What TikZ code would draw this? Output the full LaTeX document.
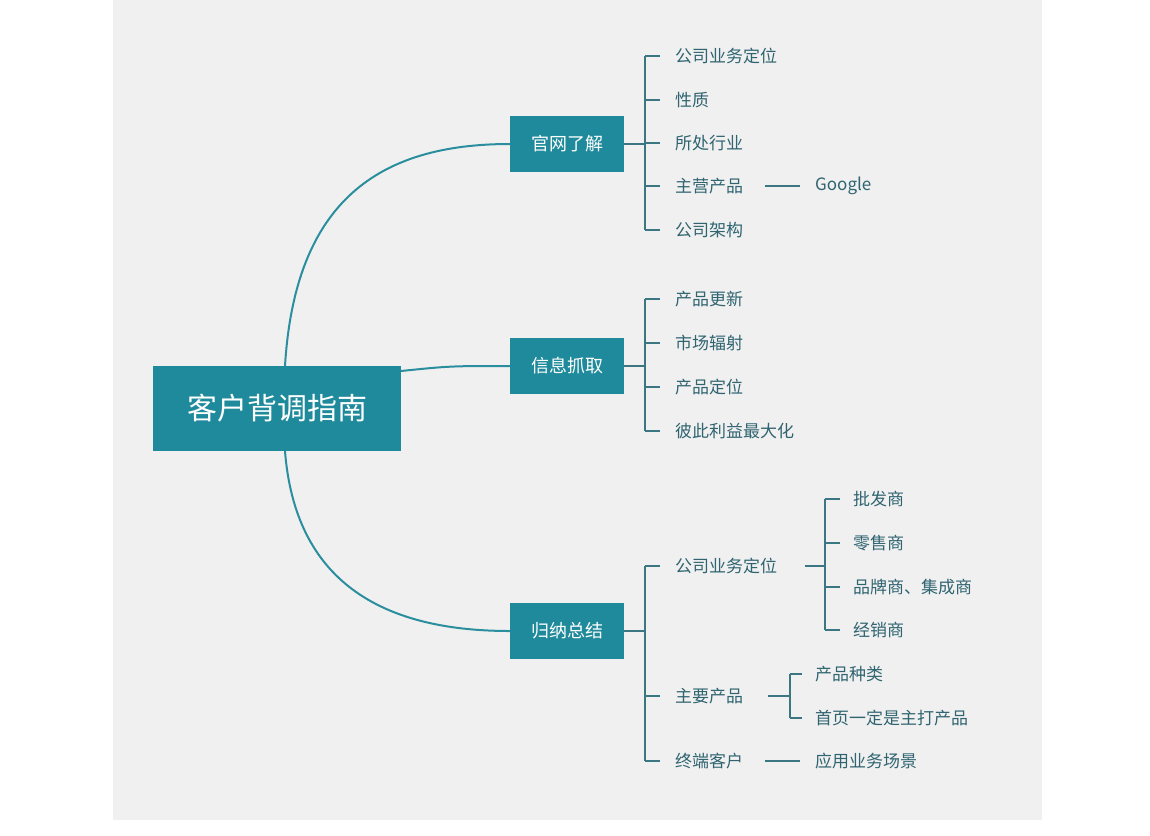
\documentclass[tikz,border=0pt]{standalone}
\usepackage{fontspec}
\setmainfont{Noto Sans CJK SC}
\begin{document}
\begin{tikzpicture}[x=1pt,y=-1pt,
  box/.style={fill=boxc,text=white,inner sep=0pt,font=\fontsize{18}{20}\selectfont},
  leaf/.style={anchor=west,text=txt,inner sep=0pt,font=\fontsize{17}{20}\selectfont},
  br/.style={draw=brc,line width=1.3pt},
  cv/.style={draw=cvc,line width=2pt}]
\definecolor{boxc}{HTML}{1F8A9B}
\definecolor{txt}{HTML}{2F6470}
\definecolor{brc}{HTML}{3A7783}
\definecolor{cvc}{HTML}{2A8E9E}
\useasboundingbox (0,0) rectangle (1150,835);
\fill[white] (0,0) rectangle (1150,835);
\fill[gray!12!white] (113,0) rectangle (1042,820);
\node[box,minimum width=248,minimum height=85,font=\fontsize{30}{34}\selectfont] (root) at (277,408) {客户背调指南};
\node[box,minimum width=114,minimum height=56] (b1) at (567,144) {官网了解};
\node[box,minimum width=114,minimum height=56] (b2) at (567,366) {信息抓取};
\node[box,minimum width=114,minimum height=56] (b3) at (567,631) {归纳总结};
\coordinate (rt) at (285,366);
\coordinate (rb) at (285,451);
\coordinate (rr) at (401,371);
\draw[cv] (rt) .. controls (295,200) and (380,144) .. (b1.west);
\draw[cv] (rr) .. controls (450,366) .. (b2.west);
\draw[cv] (rb) .. controls (295,580) and (380,631) .. (b3.west);
% branch 1
\foreach \n/\y/\t in {a1/56/公司业务定位,a2/100/性质,a3/143/所处行业,a4/186/主营产品,a5/230/公司架构}
  {\node[leaf] (\n) at (675,\y) {\t}; \draw[br] (645,\y) -- (660,\y);}
\draw[br] (645,56) -- (645,230);
\draw[br] (b1.east) -- (645,144);
\node[leaf] (g) at (815,186) {Google};
\draw[br] (765,186) -- (800,186);
% branch 2
\foreach \n/\y/\t in {c1/299/产品更新,c2/343/市场辐射,c3/387/产品定位,c4/431/彼此利益最大化}
  {\node[leaf] (\n) at (675,\y) {\t}; \draw[br] (645,\y) -- (660,\y);}
\draw[br] (645,299) -- (645,431);
\draw[br] (b2.east) -- (645,366);
% branch 3
\foreach \n/\y/\t in {d1/566/公司业务定位,d2/696/主要产品,d3/761/终端客户}
  {\node[leaf] (\n) at (675,\y) {\t}; \draw[br] (645,\y) -- (660,\y);}
\draw[br] (645,566) -- (645,761);
\draw[br] (b3.east) -- (645,631);
\foreach \n/\y/\t in {e1/499/批发商,e2/543/零售商,e3/587/品牌商、集成商,e4/630/经销商}
  {\node[leaf] (\n) at (853,\y) {\t}; \draw[br] (825,\y) -- (840,\y);}
\draw[br] (825,499) -- (825,630);
\draw[br] (805,566) -- (825,566);
\foreach \n/\y/\t in {f1/674/产品种类,f2/718/首页一定是主打产品}
  {\node[leaf] (\n) at (815,\y) {\t}; \draw[br] (790,\y) -- (802,\y);}
\draw[br] (790,674) -- (790,718);
\draw[br] (768,696) -- (790,696);
\node[leaf] (h) at (815,761) {应用业务场景};
\draw[br] (765,761) -- (800,761);
\end{tikzpicture}
\end{document}
